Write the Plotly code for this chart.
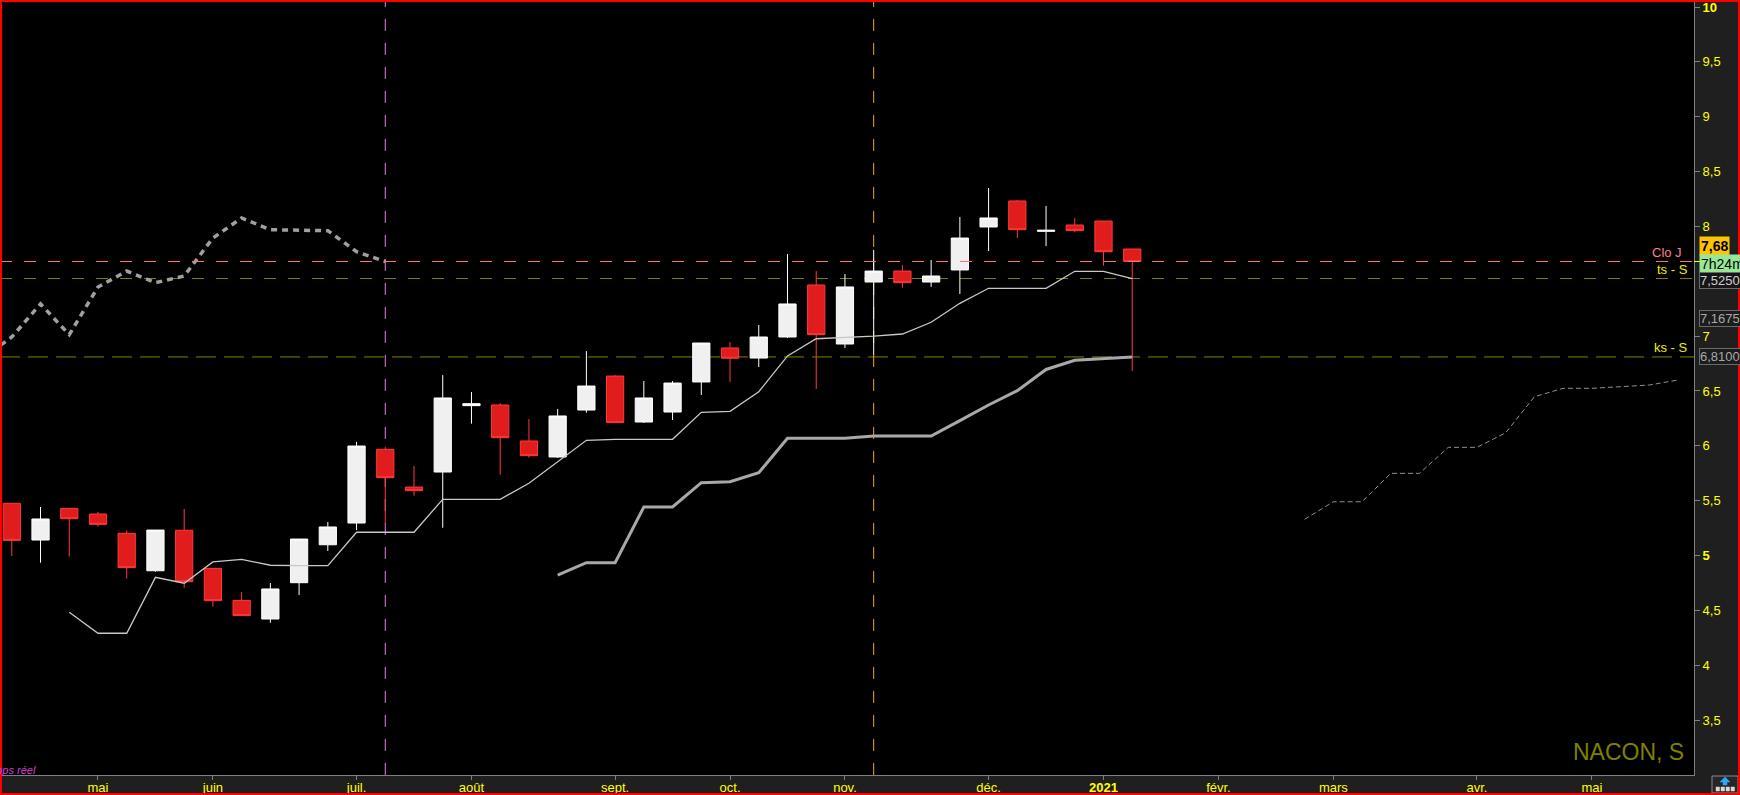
import plotly.graph_objects as go

# ---------------- data (weekly candles, NACON) ----------------
dates = ["2020-04-13", "2020-04-20", "2020-04-27", "2020-05-04", "2020-05-11", "2020-05-18",
         "2020-05-25", "2020-06-01", "2020-06-08", "2020-06-15", "2020-06-22", "2020-06-29",
         "2020-07-06", "2020-07-13", "2020-07-20", "2020-07-27", "2020-08-03", "2020-08-10",
         "2020-08-17", "2020-08-24", "2020-08-31", "2020-09-07", "2020-09-14", "2020-09-21",
         "2020-09-28", "2020-10-05", "2020-10-12", "2020-10-19", "2020-10-26", "2020-11-02",
         "2020-11-09", "2020-11-16", "2020-11-23", "2020-11-30", "2020-12-07", "2020-12-14",
         "2020-12-21", "2020-12-28", "2021-01-04", "2021-01-11"]
opens = [5.476, 5.141, 5.430, 5.378, 5.202, 4.861, 5.230, 4.883, 4.591, 4.421, 4.752, 5.098,
         5.296, 5.968, 5.624, 5.761, 6.366, 6.372, 6.044, 5.898, 6.326, 6.636, 6.217, 6.308,
         6.582, 6.892, 6.800, 6.992, 7.466, 6.928, 7.493, 7.593, 7.493, 7.603, 7.995, 8.232,
         7.955, 8.013, 8.049, 7.794]
highs = [5.480, 5.442, 5.435, 5.396, 5.230, 5.232, 5.424, 4.883, 4.667, 4.749, 5.150, 5.305,
         6.035, 5.990, 5.816, 6.645, 6.490, 6.390, 6.244, 6.336, 6.864, 6.645, 6.591, 6.590,
         6.937, 6.946, 7.101, 7.748, 7.593, 7.566, 7.785, 7.648, 7.694, 8.086, 8.350, 8.240,
         8.186, 8.077, 8.050, 7.794]
lows = [4.995, 4.934, 4.989, 5.263, 4.789, 4.852, 4.706, 4.533, 4.452, 4.387, 4.640, 5.041,
        5.232, 5.290, 5.545, 5.253, 6.202, 5.737, 5.891, 5.890, 6.302, 6.211, 6.208, 6.235,
        6.463, 6.582, 6.718, 6.983, 6.518, 6.891, 6.828, 7.441, 7.448, 7.384, 7.776, 7.894,
        7.821, 7.949, 7.642, 6.682]
closes = [5.138, 5.333, 5.335, 5.284, 4.889, 5.232, 4.761, 4.588, 4.452, 4.695, 5.150, 5.260,
          5.998, 5.709, 5.591, 6.436, 6.384, 6.074, 5.910, 6.272, 6.545, 6.211, 6.436, 6.572,
          6.937, 6.798, 6.992, 7.293, 7.013, 7.448, 7.593, 7.487, 7.548, 7.894, 8.077, 7.970,
          7.965, 7.961, 7.769, 7.680]

# Tenkan (thin line) from 2020-04-27
tenkan_dates = dates[2:]
tenkan = [4.482, 4.291, 4.291, 4.801, 4.747, 4.941, 4.965, 4.911, 4.907, 4.907,
          5.212, 5.212, 5.212, 5.512, 5.512, 5.512, 5.658, 5.854, 6.050, 6.059,
          6.059, 6.059, 6.305, 6.314, 6.493, 6.819, 6.976, 6.985, 7.000, 7.019,
          7.126, 7.299, 7.436, 7.436, 7.436, 7.591, 7.591, 7.525]

# Kijun (thick line) from 2020-08-24
kijun_dates = dates[19:]
kijun = [4.822, 4.935, 4.935, 5.442, 5.442, 5.664, 5.673, 5.755, 6.068, 6.068, 6.068,
         6.089, 6.089, 6.089, 6.230, 6.372, 6.503, 6.696, 6.780, 6.797, 6.810]

# Chikou (dashed, shifted back)
chikou_dates = ["2020-04-06", "2020-04-13", "2020-04-20", "2020-04-27", "2020-05-04",
                "2020-05-11", "2020-05-18", "2020-05-25", "2020-06-01", "2020-06-08",
                "2020-06-15", "2020-06-22", "2020-06-29", "2020-07-06", "2020-07-13"]
chikou = [6.798, 6.992, 7.293, 7.013, 7.448, 7.593, 7.487, 7.548, 7.894, 8.077,
          7.970, 7.965, 7.961, 7.769, 7.680]

# Senkou (future, thin dashed)
senkou_dates = ["2021-02-22", "2021-03-01", "2021-03-08", "2021-03-15", "2021-03-22",
                "2021-03-29", "2021-04-05", "2021-04-12", "2021-04-19", "2021-04-26",
                "2021-05-03", "2021-05-10", "2021-05-17", "2021-05-24"]
senkou = [5.330, 5.490, 5.490, 5.749, 5.749, 5.986, 5.986, 6.119, 6.448, 6.524,
          6.524, 6.539, 6.554, 6.600]

# axes
x_range = ["2020-04-10 03:00", "2021-05-27 21:00"]
y_range = [2.999, 10.064]
month_ticks = ["2020-05-04", "2020-06-01", "2020-07-06", "2020-08-03", "2020-09-07",
               "2020-10-05", "2020-11-02", "2020-12-07", "2021-01-04", "2021-02-01",
               "2021-03-01", "2021-04-05", "2021-05-03"]
month_labels = ["mai", "juin", "juil.", "août", "sept.", "oct.", "nov.", "déc.",
                "<b>2021</b>", "févr.", "mars", "avr.", "mai"]
price_ticks = [3.5, 4, 4.5, 5, 5.5, 6, 6.5, 7, 8, 8.5, 9, 9.5, 10]
price_labels = ["3,5", "4", "4,5", "<b>5</b>", "5,5", "6", "6,5", "7", "8", "8,5", "9", "9,5", "<b>10</b>"]

vline_magenta = "2020-07-13"
vline_orange = "2020-11-09"
clo_j = closes[-1]
ts_s = tenkan[-1]
ks_s = kijun[-1]
senkou_b_now = 7.1675

# ---------------- figure ----------------
W, H = 1740, 795
ML, MR, MT, MB = 0, 46, 0, 20
PW, PH = W - ML - MR, H - MT - MB
FONT = "Liberation Sans, Arial, sans-serif"


def px(xp):
    return (xp - ML) / PW


def py(yp):
    return (H - MB - yp) / PH


fig = go.Figure()

fig.add_trace(go.Scatter(x=chikou_dates, y=chikou, mode="lines",
                         line=dict(color="#a0a0a0", width=3.5, dash="6px,5px"), hoverinfo="skip"))
fig.add_trace(go.Scatter(x=senkou_dates, y=senkou, mode="lines",
                         line=dict(color="#909090", width=1, dash="5px,3px"), hoverinfo="skip"))
fig.add_trace(go.Scatter(x=kijun_dates, y=kijun, mode="lines",
                         line=dict(color="#a8a8a8", width=3), hoverinfo="skip"))
fig.add_trace(go.Scatter(x=tenkan_dates, y=tenkan, mode="lines",
                         line=dict(color="#c8c8c8", width=1.3), hoverinfo="skip"))
fig.add_trace(go.Candlestick(
    x=dates, open=opens, high=highs, low=lows, close=closes,
    increasing=dict(line=dict(color="#ffffff", width=1), fillcolor="#f0f0f0"),
    decreasing=dict(line=dict(color="#ff3a3a", width=1), fillcolor="#e01c1c"),
    whiskerwidth=0, hoverinfo="skip"))

shapes = []
# horizontal reference lines
shapes.append(dict(type="line", xref="paper", yref="y", x0=0, x1=1, y0=ts_s, y1=ts_s,
                   line=dict(color="#808000", width=1, dash="12px,12px"), layer="below"))
shapes.append(dict(type="line", xref="paper", yref="y", x0=0, x1=1, y0=ks_s, y1=ks_s,
                   line=dict(color="#808000", width=1, dash="20px,8px"), layer="below"))
shapes.append(dict(type="line", xref="paper", yref="y", x0=0, x1=1, y0=clo_j, y1=clo_j,
                   line=dict(color="#ff7070", width=1, dash="12px,12px"), layer="above"))
# vertical dashed lines
shapes.append(dict(type="line", xref="x", yref="paper", x0=vline_magenta, x1=vline_magenta, y0=0, y1=1,
                   line=dict(color="#e878e8", width=1, dash="12px,12px"), layer="below"))
shapes.append(dict(type="line", xref="x", yref="paper", x0=vline_orange, x1=vline_orange, y0=0, y1=1,
                   line=dict(color="#ffaa00", width=1, dash="12px,12px"), layer="below"))
# yellow tick at current price on the right axis
shapes.append(dict(type="line", xref="paper", yref="y", x0=px(1694), x1=px(1700), y0=clo_j, y1=clo_j,
                   line=dict(color="#ffff00", width=1)))
# bottom-right icon
shapes.append(dict(type="rect", xref="paper", yref="paper", x0=px(1712), x1=px(1738), y0=py(793), y1=py(776),
                   line=dict(color="#8a8a8a", width=1), fillcolor="#262626"))
shapes.append(dict(type="path", xref="paper", yref="paper",
                   path=f"M {px(1720)},{py(782)} L {px(1725)},{py(777)} L {px(1730)},{py(782)} L {px(1727)},{py(782)} "
                        f"L {px(1727)},{py(785)} L {px(1723)},{py(785)} L {px(1723)},{py(782)} Z",
                   line=dict(color="#2aa8ff", width=0.5), fillcolor="#2aa8ff"))
for sx in (1716, 1721, 1726, 1731):
    shapes.append(dict(type="rect", xref="paper", yref="paper", x0=px(sx), x1=px(sx + 3.5), y0=py(791), y1=py(787),
                       line=dict(color="#d8d8d8", width=0.5), fillcolor="#d8d8d8"))
# red frame
shapes.append(dict(type="rect", xref="paper", yref="paper", x0=px(1), x1=px(1739), y0=py(794), y1=py(1),
                   line=dict(color="#ff0000", width=2), fillcolor="rgba(0,0,0,0)"))

annotations = []
# line labels
annotations.append(dict(xref="paper", yref="y", x=px(1684), y=clo_j, xanchor="right", yanchor="bottom",
                        text="Clo J", showarrow=False, yshift=0,
                        font=dict(family=FONT, size=13, color="#ff8080")))
annotations.append(dict(xref="paper", yref="y", x=px(1690), y=ts_s, xanchor="right", yanchor="bottom",
                        text="ts - S", showarrow=False, yshift=0,
                        font=dict(family=FONT, size=13, color="#f0f000")))
annotations.append(dict(xref="paper", yref="y", x=px(1690), y=ks_s, xanchor="right", yanchor="bottom",
                        text="ks - S", showarrow=False, yshift=0,
                        font=dict(family=FONT, size=13, color="#f0f000")))
# right-axis value boxes
box_x = px(1699)
annotations.append(dict(xref="paper", yref="y", x=box_x, y=clo_j, xanchor="left", yanchor="middle",
                        yshift=16, text="<b>7,68</b>", showarrow=False, bgcolor="#ffc400",
                        borderpad=1, font=dict(family=FONT, size=14, color="#000000")))
annotations.append(dict(xref="paper", yref="y", x=box_x, y=clo_j, xanchor="left", yanchor="middle",
                        yshift=-2, text="7h24m", showarrow=False, bgcolor="#96e896",
                        borderpad=1, font=dict(family=FONT, size=14, color="#000000")))
annotations.append(dict(xref="paper", yref="y", x=box_x, y=ts_s, xanchor="left", yanchor="middle",
                        yshift=-2, text="7,5250", showarrow=False, bgcolor="#161616",
                        bordercolor="#6a6a6a", borderwidth=1, borderpad=0,
                        font=dict(family=FONT, size=13, color="#d0d0d0")))
annotations.append(dict(xref="paper", yref="y", x=box_x, y=senkou_b_now, xanchor="left", yanchor="middle",
                        yshift=-1, text="7,1675", showarrow=False, bgcolor="#1c1c1c",
                        bordercolor="#6a6a6a", borderwidth=1, borderpad=0,
                        font=dict(family=FONT, size=13, color="#a8a8a8")))
annotations.append(dict(xref="paper", yref="y", x=box_x, y=ks_s, xanchor="left", yanchor="middle",
                        yshift=0, text="6,8100", showarrow=False, bgcolor="#1c1c1c",
                        bordercolor="#6a6a6a", borderwidth=1, borderpad=0,
                        font=dict(family=FONT, size=13, color="#a8a8a8")))
# watermark and realtime label
annotations.append(dict(xref="paper", yref="paper", x=px(1686), y=py(752), xanchor="right", yanchor="middle",
                        text="NACON, S", showarrow=False,
                        font=dict(family=FONT, size=23, color="#808000")))
annotations.append(dict(xref="paper", yref="paper", x=px(38), y=py(770), xanchor="right", yanchor="middle",
                        text="<i>temps réel</i>", showarrow=False,
                        font=dict(family=FONT, size=11, color="#d040d0")))

fig.update_layout(
    template="none",
    width=W, height=H,
    margin=dict(l=ML, r=MR, t=MT, b=MB, pad=0),
    paper_bgcolor="#1f1f1f",
    plot_bgcolor="#000000",
    showlegend=False,
    hovermode=False,
    boxgap=0.4, boxgroupgap=0,
    shapes=shapes,
    annotations=annotations,
    xaxis=dict(type="date", range=x_range, rangeslider=dict(visible=False),
               tickmode="array", tickvals=month_ticks, ticktext=month_labels,
               showgrid=False, zeroline=False, showline=True, linecolor="#808080", linewidth=1,
               ticks="", ticklen=0,
               minor=dict(tickmode="array", tickvals=month_ticks, ticks="outside", ticklen=4,
                          tickcolor="#808080", showgrid=False),
               ticklabeloverflow="allow",
               tickfont=dict(family=FONT, size=13, color="#ffff00"), automargin=False),
    yaxis=dict(side="right", range=y_range, tickmode="array", tickvals=price_ticks, ticktext=price_labels,
               showgrid=False, zeroline=False, showline=True, linecolor="#808080", linewidth=1,
               ticks="outside", ticklen=5, tickcolor="#808080", ticklabeloverflow="allow",
               tickfont=dict(family=FONT, size=13, color="#ffff00"), automargin=False),
)

fig.write_html("out.html", config={"displayModeBar": False},
               post_script="document.body.style.margin='0';document.body.style.overflow='hidden';")
